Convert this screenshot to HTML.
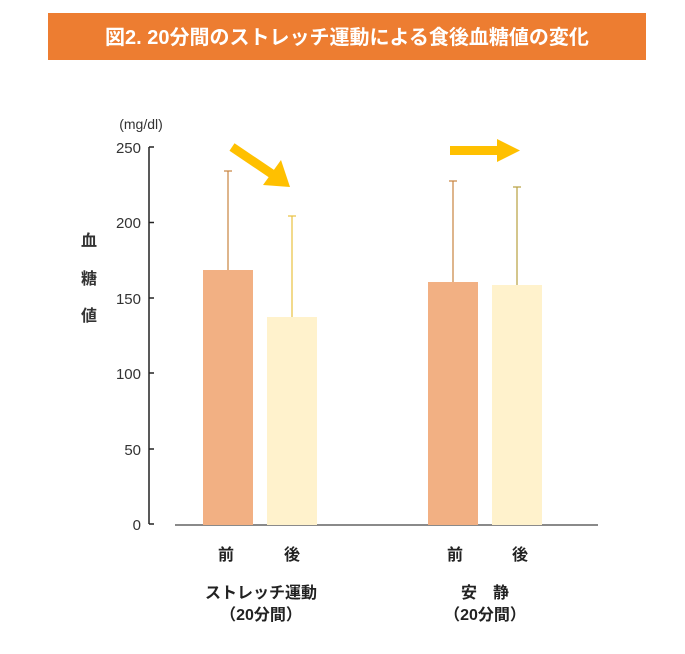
<!DOCTYPE html><html><head><meta charset="utf-8"><style>
body{margin:0;width:685px;height:649px;background:#fff;font-family:"Liberation Sans","Noto Sans CJK JP",sans-serif;}
</style></head><body>
<svg width="685" height="649" xmlns="http://www.w3.org/2000/svg" style="font-family:'Liberation Sans','Noto Sans CJK JP',sans-serif">
<rect x="48" y="13" width="598" height="47" fill="#ED7D31"/>
<text x="347" y="44" text-anchor="middle" fill="#fff" font-size="20" font-weight="bold">図2. 20分間のストレッチ運動による食後血糖値の変化</text>
<text x="141" y="129" text-anchor="middle" font-size="14" fill="#333">(mg/dl)</text>
<g stroke="#222" stroke-width="1.5" fill="none">
<line x1="149" y1="147" x2="149" y2="524"/>
<line x1="149" y1="147" x2="154" y2="147"/><line x1="149" y1="222.5" x2="154" y2="222.5"/><line x1="149" y1="298" x2="154" y2="298"/><line x1="149" y1="373" x2="154" y2="373"/><line x1="149" y1="449" x2="154" y2="449"/><line x1="149" y1="524" x2="154" y2="524"/>
</g>
<line x1="175" y1="525" x2="598" y2="525" stroke="#444" stroke-width="1.2"/>
<g font-size="15" fill="#333" text-anchor="end">
<text x="141" y="153">250</text><text x="141" y="228">200</text><text x="141" y="304">150</text><text x="141" y="379">100</text><text x="141" y="455">50</text><text x="141" y="530">0</text>
</g>
<g font-size="16" font-weight="bold" fill="#333" text-anchor="middle">
<text x="89" y="246">血</text><text x="89" y="284">糖</text><text x="89" y="321">値</text>
</g>
<rect x="203" y="270" width="50" height="255" fill="#F2B083"/>
<rect x="267" y="317" width="50" height="208" fill="#FFF2CC"/>
<rect x="428" y="282" width="50" height="243" fill="#F2B083"/>
<rect x="492" y="285" width="50" height="240" fill="#FFF2CC"/>
<g stroke-width="1.2">
<line x1="228" y1="171" x2="228" y2="270" stroke="#C8843F"/><line x1="224" y1="171" x2="232" y2="171" stroke="#C8843F"/>
<line x1="292" y1="216" x2="292" y2="317" stroke="#E8C040"/><line x1="288" y1="216" x2="296" y2="216" stroke="#E8C040"/>
<line x1="453" y1="181" x2="453" y2="282" stroke="#C8843F"/><line x1="449" y1="181" x2="457" y2="181" stroke="#C8843F"/>
<line x1="517" y1="187" x2="517" y2="285" stroke="#B8A040"/><line x1="513" y1="187" x2="521" y2="187" stroke="#B8A040"/>
</g>
<line x1="232" y1="147" x2="272" y2="174" stroke="#FFC000" stroke-width="9"/>
<polygon points="290,187 263,185 281,160" fill="#FFC000"/>
<rect x="450" y="146" width="48" height="9" fill="#FFC000"/>
<polygon points="497,139 520,150.5 497,162" fill="#FFC000"/>
<g font-size="16" font-weight="bold" fill="#222" text-anchor="middle">
<text x="226" y="560">前</text><text x="292" y="560">後</text>
<text x="455" y="560">前</text><text x="520" y="560">後</text>
<text x="261" y="598">ストレッチ運動</text>
<text x="261" y="620">（20分間）</text>
<text x="485" y="598">安　静</text>
<text x="485" y="620">（20分間）</text>
</g>
</svg>
</body></html>
